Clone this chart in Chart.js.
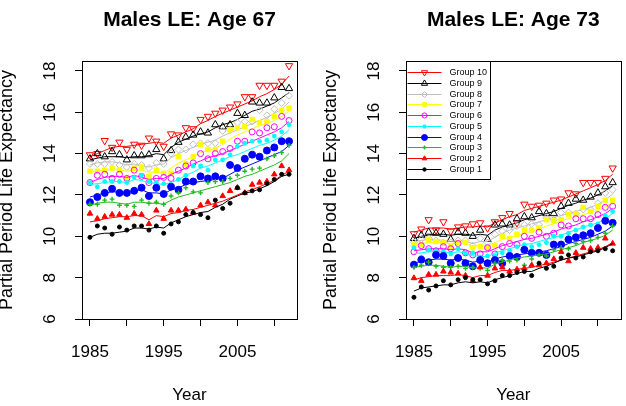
<!DOCTYPE html>
<html>
<head>
<meta charset="utf-8">
<script src="https://cdn.jsdelivr.net/npm/chart.js@4.4.1/dist/chart.umd.min.js"></script>
<style>
  body { margin: 0; background: #fff; }
  #wrap { position: relative; width: 626px; height: 406px; }
  canvas { position: absolute; top: 0; }
</style>
</head>
<body>
<div id="wrap">
  <canvas id="c67" width="313" height="406" style="left:0"></canvas>
  <canvas id="c73" width="313" height="406" style="left:313px"></canvas>
</div>
<script>
// ---- data ----
const years = [1985, 1986, 1987, 1988, 1989, 1990, 1991, 1992, 1993, 1994, 1995, 1996, 1997, 1998,
               1999, 2000, 2001, 2002, 2003, 2004, 2005, 2006, 2007, 2008, 2009, 2010, 2011, 2012];
const xTickValues = [1985, 1990, 1995, 2000, 2005, 2010];
const xTickLabels = ['1985', '', '1995', '', '2005', ''];
const yTickValues = [6, 8, 10, 12, 14, 16, 18];
const groupNames = ['Group 1', 'Group 2', 'Group 3', 'Group 4', 'Group 5',
                    'Group 6', 'Group 7', 'Group 8', 'Group 9', 'Group 10'];

// Age 67: observed points
const obs67G1 = [9.95, 10.5, 10.4, 10.1, 10.45, 10.3, 10.5, 10.5, 10.3, 10.5, 10.15, 10.6, 10.7, 11.05, 11.15, 11.05, 10.9, 11.75, 11.35, 11.6, 12.35, 12.1, 12.2, 12.25, 12.55, 12.75, 13.0, 13.0];
const obs67G2 = [11.1, 10.85, 10.95, 11.05, 11.05, 10.9, 11.1, 11.05, 10.6, 11.25, 10.85, 11.25, 11.25, 11.3, 11.15, 11.5, 11.65, 11.5, 11.95, 12.2, 12.35, 12.1, 12.5, 12.6, 12.65, 13.0, 13.4, 13.2];
const obs67G3 = [11.55, 11.55, 11.75, 11.8, 11.5, 11.5, 11.45, 11.75, 11.6, 11.65, 11.55, 11.95, 12.1, 12.35, 12.15, 12.1, 12.6, 12.65, 12.65, 12.8, 12.95, 13.15, 13.25, 13.3, 13.75, 13.9, 14.05, 14.4];
const obs67G4 = [11.65, 11.9, 12.1, 12.3, 12.1, 12.1, 12.2, 12.35, 11.95, 12.35, 12.05, 12.4, 12.25, 12.65, 12.65, 12.9, 12.8, 12.9, 12.8, 13.45, 13.3, 13.75, 13.95, 13.85, 14.15, 14.3, 14.6, 14.6];
const obs67G5 = [12.6, 12.4, 12.65, 12.65, 12.65, 12.6, 12.85, 12.95, 12.65, 12.6, 12.55, 12.4, 12.75, 12.95, 13.4, 13.4, 13.2, 13.7, 13.7, 13.95, 14.35, 14.5, 14.6, 14.6, 14.65, 14.85, 15.05, 15.4];
const obs67G6 = [12.6, 12.95, 13.0, 12.8, 13.0, 12.8, 13.2, 12.9, 12.6, 12.8, 12.85, 12.8, 13.2, 13.4, 13.55, 14.0, 13.75, 14.0, 14.1, 14.25, 14.6, 14.6, 15.05, 15.0, 15.25, 15.3, 15.8, 15.6];
const obs67G7 = [13.15, 13.15, 13.2, 13.3, 13.2, 12.8, 13.3, 13.35, 12.9, 13.2, 13.05, 13.05, 13.85, 13.5, 13.85, 14.45, 14.2, 14.2, 14.6, 15.15, 15.25, 15.3, 15.65, 15.5, 15.55, 15.8, 16.1, 16.2];
const obs67G8 = [13.5, 13.5, 13.5, 13.6, 13.45, 13.35, 13.5, 13.45, 13.3, 13.55, 13.5, 14.0, 14.2, 14.2, 14.45, 14.5, 14.5, 14.5, 15.1, 15.15, 15.5, 15.55, 15.55, 16.1, 15.85, 16.15, 16.45, 16.8];
const obs67G9 = [13.75, 14.0, 13.85, 14.1, 13.95, 13.7, 13.9, 13.9, 13.95, 14.2, 13.75, 14.15, 14.55, 14.8, 14.9, 15.05, 15.0, 15.4, 15.3, 15.4, 15.95, 15.85, 16.5, 16.45, 16.45, 16.7, 17.2, 17.15];
const obs67G10 = [13.94, 14.0, 14.63, 14.3, 14.55, 14.2, 14.45, 14.4, 14.75, 14.6, 14.35, 14.95, 14.9, 15.25, 15.2, 15.65, 15.8, 15.95, 16.1, 16.25, 16.4, 16.75, 16.75, 17.3, 17.3, 17.3, 17.5, 18.25];

// Age 67: fitted lines
const fit67G1 = [9.95, 10.1, 10.15, 10.15, 10.2, 10.25, 10.4, 10.4, 10.35, 10.45, 10.4, 10.65, 10.8, 10.95, 11.05, 11.15, 11.2, 11.4, 11.55, 11.8, 11.95, 12.1, 12.15, 12.3, 12.45, 12.65, 12.9, 13.0];
const fit67G2 = [10.7, 10.75, 10.85, 10.9, 10.95, 10.95, 11.0, 11.0, 10.8, 11.0, 10.95, 11.1, 11.15, 11.25, 11.3, 11.4, 11.5, 11.6, 11.7, 11.85, 12.0, 12.15, 12.25, 12.4, 12.55, 12.7, 12.95, 13.15];
const fit67G3 = [11.5, 11.6, 11.65, 11.65, 11.6, 11.55, 11.65, 11.65, 11.6, 11.6, 11.55, 11.75, 11.9, 12.0, 12.1, 12.2, 12.3, 12.4, 12.5, 12.6, 12.75, 12.9, 13.0, 13.15, 13.3, 13.45, 13.65, 14.0];
const fit67G4 = [11.9, 12.0, 12.1, 12.15, 12.15, 12.1, 12.2, 12.25, 12.1, 12.1, 12.05, 12.25, 12.35, 12.5, 12.6, 12.65, 12.7, 12.75, 12.8, 13.0, 13.2, 13.35, 13.5, 13.65, 13.8, 13.95, 14.1, 14.4];
const fit67G5 = [12.5, 12.55, 12.6, 12.65, 12.65, 12.6, 12.75, 12.7, 12.6, 12.55, 12.5, 12.6, 12.75, 12.95, 13.1, 13.3, 13.4, 13.55, 13.7, 13.85, 13.95, 14.1, 14.25, 14.4, 14.5, 14.65, 14.85, 15.15];
const fit67G6 = [12.6, 12.75, 12.85, 12.9, 12.9, 12.85, 12.95, 12.85, 12.75, 12.8, 12.8, 13.0, 13.15, 13.3, 13.5, 13.65, 13.8, 13.9, 14.0, 14.15, 14.3, 14.45, 14.6, 14.75, 14.9, 15.05, 15.25, 15.55];
const fit67G7 = [13.1, 13.15, 13.2, 13.25, 13.2, 13.15, 13.2, 13.2, 13.1, 13.1, 13.05, 13.3, 13.55, 13.7, 13.85, 14.05, 14.15, 14.25, 14.45, 14.7, 14.9, 15.05, 15.2, 15.35, 15.45, 15.6, 15.8, 16.05];
const fit67G8 = [13.45, 13.55, 13.6, 13.6, 13.55, 13.45, 13.5, 13.4, 13.35, 13.45, 13.5, 13.8, 14.0, 14.15, 14.3, 14.45, 14.55, 14.65, 14.85, 15.0, 15.15, 15.3, 15.45, 15.6, 15.75, 15.95, 16.15, 16.5];
const fit67G9 = [13.7, 13.78, 13.85, 13.85, 13.85, 13.8, 13.85, 13.85, 13.9, 14.0, 13.95, 14.3, 14.55, 14.7, 14.85, 14.95, 15.05, 15.25, 15.4, 15.5, 15.65, 15.85, 16.05, 16.15, 16.3, 16.45, 16.7, 16.95];
const fit67G10 = [13.85, 14.0, 14.15, 14.3, 14.35, 14.35, 14.4, 14.45, 14.5, 14.55, 14.5, 14.75, 14.9, 15.05, 15.2, 15.45, 15.6, 15.8, 15.95, 16.1, 16.25, 16.4, 16.55, 16.75, 16.9, 17.1, 17.35, 17.75];

// Age 73: observed points
const obs73G1 = [7.05, 7.55, 7.4, 7.6, 7.85, 7.65, 7.9, 8.0, 7.9, 7.9, 7.7, 7.85, 8.1, 8.1, 8.25, 8.3, 8.1, 8.7, 8.45, 8.55, 8.95, 9.1, 8.95, 9.0, 9.25, 9.3, 9.4, 9.3];
const obs73G2 = [7.98, 7.85, 8.15, 8.15, 8.3, 8.25, 8.2, 8.1, 7.85, 8.5, 8.1, 8.45, 8.5, 8.3, 8.4, 8.45, 8.6, 8.6, 8.7, 8.9, 9.25, 8.8, 9.2, 9.45, 9.4, 9.45, 9.9, 9.65];
const obs73G3 = [8.5, 8.6, 8.75, 8.55, 8.5, 8.5, 8.55, 8.45, 8.5, 8.45, 8.35, 8.7, 8.85, 8.8, 8.85, 8.6, 8.9, 9.1, 9.05, 9.35, 9.45, 9.4, 9.65, 9.75, 9.8, 9.95, 10.15, 10.5];
const obs73G4 = [8.63, 8.87, 8.75, 9.1, 9.05, 8.7, 8.95, 8.7, 8.55, 8.85, 8.7, 8.85, 8.7, 9.05, 9.0, 9.35, 9.2, 9.2, 9.1, 9.6, 9.6, 9.85, 9.95, 10.05, 10.15, 10.4, 10.75, 10.65];
const obs73G5 = [9.45, 9.0, 9.35, 9.3, 9.25, 9.15, 9.4, 9.2, 9.2, 9.0, 9.05, 9.05, 9.2, 9.3, 9.5, 9.6, 9.5, 9.6, 9.7, 10.0, 10.0, 10.15, 10.3, 10.45, 10.55, 10.6, 11.0, 11.2];
const obs73G6 = [9.25, 9.55, 9.4, 9.3, 9.5, 9.4, 9.65, 9.2, 9.1, 9.15, 9.45, 9.15, 9.5, 9.65, 9.6, 10.0, 9.9, 10.2, 10.0, 10.15, 10.55, 10.5, 10.85, 10.85, 10.85, 11.05, 11.4, 11.45];
const obs73G7 = [9.6, 9.6, 9.85, 9.75, 9.7, 9.5, 9.7, 9.7, 9.45, 9.5, 9.45, 9.55, 10.0, 9.9, 10.1, 10.3, 10.3, 10.4, 10.8, 10.75, 10.8, 11.05, 11.1, 11.4, 11.2, 11.45, 11.75, 11.75];
const obs73G8 = [9.7, 9.85, 9.9, 9.8, 9.7, 9.7, 9.8, 9.8, 9.55, 9.9, 9.7, 10.1, 10.25, 10.3, 10.5, 10.55, 10.6, 10.55, 10.9, 10.8, 11.15, 11.15, 11.1, 11.3, 11.3, 11.6, 12.1, 12.25];
const obs73G9 = [9.9, 10.05, 10.2, 10.15, 10.1, 9.85, 10.2, 10.15, 10.0, 10.3, 9.85, 10.55, 10.6, 10.55, 10.85, 10.95, 10.9, 11.2, 11.1, 11.1, 11.45, 11.6, 11.8, 11.75, 11.9, 12.1, 12.4, 12.6];
const obs73G10 = [10.12, 10.35, 10.8, 10.3, 10.7, 10.25, 10.45, 10.5, 10.6, 10.65, 10.4, 10.7, 10.9, 11.1, 10.65, 11.55, 11.45, 11.5, 11.6, 11.75, 11.8, 12.1, 12.05, 12.6, 12.6, 12.6, 12.8, 13.3];

// Age 73: fitted lines
const fit73G1 = [7.35, 7.5, 7.55, 7.6, 7.65, 7.65, 7.75, 7.8, 7.75, 7.8, 7.75, 7.9, 8.0, 8.1, 8.2, 8.3, 8.3, 8.45, 8.55, 8.7, 8.85, 8.95, 9.0, 9.1, 9.2, 9.3, 9.45, 9.65];
const fit73G2 = [7.9, 8.0, 8.05, 8.1, 8.1, 8.1, 8.15, 8.1, 8.0, 8.1, 8.1, 8.25, 8.35, 8.35, 8.4, 8.45, 8.5, 8.6, 8.65, 8.75, 8.85, 8.95, 9.05, 9.15, 9.25, 9.35, 9.5, 9.7];
const fit73G3 = [8.5, 8.55, 8.6, 8.6, 8.55, 8.5, 8.55, 8.55, 8.45, 8.5, 8.45, 8.65, 8.75, 8.85, 8.95, 9.0, 9.05, 9.1, 9.15, 9.25, 9.35, 9.45, 9.55, 9.7, 9.8, 9.9, 10.05, 10.3];
const fit73G4 = [8.7, 8.8, 8.85, 8.9, 8.9, 8.85, 8.9, 8.85, 8.75, 8.8, 8.75, 8.9, 9.0, 9.05, 9.1, 9.15, 9.2, 9.25, 9.3, 9.4, 9.5, 9.65, 9.75, 9.85, 9.95, 10.1, 10.25, 10.5];
const fit73G5 = [9.15, 9.2, 9.25, 9.25, 9.25, 9.2, 9.25, 9.2, 9.05, 9.05, 9.0, 9.2, 9.3, 9.4, 9.5, 9.6, 9.65, 9.75, 9.85, 9.95, 10.05, 10.2, 10.3, 10.45, 10.55, 10.65, 10.85, 11.1];
const fit73G6 = [9.3, 9.35, 9.4, 9.4, 9.4, 9.35, 9.4, 9.35, 9.2, 9.25, 9.25, 9.4, 9.55, 9.65, 9.75, 9.85, 9.9, 10.0, 10.1, 10.2, 10.35, 10.45, 10.55, 10.7, 10.8, 10.95, 11.1, 11.35];
const fit73G7 = [9.6, 9.65, 9.7, 9.7, 9.7, 9.65, 9.7, 9.65, 9.5, 9.55, 9.5, 9.7, 9.85, 9.95, 10.05, 10.15, 10.25, 10.35, 10.5, 10.6, 10.75, 10.85, 10.95, 11.05, 11.15, 11.25, 11.4, 11.65];
const fit73G8 = [9.75, 9.8, 9.85, 9.85, 9.8, 9.75, 9.8, 9.75, 9.65, 9.75, 9.75, 9.95, 10.15, 10.3, 10.4, 10.5, 10.6, 10.7, 10.8, 10.9, 11.0, 11.1, 11.2, 11.3, 11.4, 11.55, 11.75, 12.05];
const fit73G9 = [9.9, 10.0, 10.05, 10.1, 10.1, 10.05, 10.1, 10.1, 10.05, 10.1, 10.05, 10.3, 10.45, 10.55, 10.65, 10.8, 10.9, 11.0, 11.1, 11.2, 11.35, 11.5, 11.6, 11.75, 11.85, 12.0, 12.2, 12.45];
const fit73G10 = [10.2, 10.3, 10.4, 10.4, 10.4, 10.35, 10.4, 10.45, 10.45, 10.5, 10.45, 10.65, 10.8, 10.95, 11.05, 11.25, 11.35, 11.45, 11.55, 11.65, 11.75, 11.9, 12.05, 12.2, 12.35, 12.5, 12.7, 13.0];

// ---- styles ----
const groupColors = ['#000000', '#FF0000', '#22B922', '#0000FF', '#00FFFF',
                     '#FF00FF', '#FFFF00', '#BEBEBE', '#000000', '#FF0000'];
const markers = [
  { style: 'circle', r: 2.0, fill: true, bw: 1, rot: 0 },
  { style: 'triangle', r: 3.2, fill: true, bw: 1, rot: 0 },
  { style: 'cross', r: 2.4, fill: false, bw: 1.4, rot: 0 },
  { style: 'circle', r: 3.5, fill: true, bw: 1, rot: 0 },
  { style: 'star', r: 2.4, fill: false, bw: 1.4, rot: 0 },
  { style: 'circle', r: 3.0, fill: false, bw: 1, rot: 0 },
  { style: 'rect', r: 3.1, fill: true, bw: 1, rot: 0 },
  { style: 'rectRot', r: 3.5, fill: false, bw: 1, rot: 0 },
  { style: 'triangle', r: 4.2, fill: false, bw: 1, rot: 0 },
  { style: 'triangle', r: 4.2, fill: false, bw: 1, rot: 180 }
];
const FONT = '"Liberation Sans", Arial, Helvetica, sans-serif';

function makeDatasets(obs, fit) {
  const ds = [];
  for (let g = 0; g < 10; g++) {
    const m = markers[g];
    ds.push({
      label: groupNames[g] + ' fit',
      data: years.map((x, i) => ({ x: x, y: fit[g][i] })),
      showLine: true,
      borderColor: groupColors[g],
      borderWidth: 1,
      pointRadius: 0,
      fill: false
    });
    ds.push({
      label: groupNames[g],
      data: years.map((x, i) => ({ x: x, y: obs[g][i] })),
      showLine: false,
      pointStyle: m.style,
      pointRotation: m.rot,
      pointRadius: m.r,
      pointBorderWidth: m.bw,
      pointBorderColor: groupColors[g],
      pointBackgroundColor: m.fill ? groupColors[g] : 'rgba(0,0,0,0)'
    });
  }
  return ds;
}

function makeScales(yWidth) {
  const grid = { drawOnChartArea: false, drawTicks: true, tickLength: 7, color: '#000', lineWidth: 1 };
  return {
    x: {
      type: 'linear', min: 1983.92, max: 2013.08,
      afterBuildTicks: s => { s.ticks = xTickValues.map(v => ({ value: v })); },
      afterFit: s => { s.height = 87; },
      ticks: { display: false },
      grid: grid,
      border: { display: false }
    },
    y: {
      type: 'linear', min: 6, max: 18.48,
      afterBuildTicks: s => { s.ticks = yTickValues.map(v => ({ value: v })); },
      afterFit: s => { s.width = yWidth; },
      ticks: { display: false },
      grid: grid,
      border: { display: false }
    }
  };
}

// box, titles, axis text and (optionally) the legend
function decorations(title, withLegend) {
  return {
    id: 'decor',
    afterDraw(chart) {
      const ctx = chart.ctx;
      const a = chart.chartArea;
      const xs = chart.scales.x, ys = chart.scales.y;
      ctx.save();
      ctx.strokeStyle = '#000';
      ctx.lineWidth = 1;
      ctx.strokeRect(Math.round(a.left) + 0.5, Math.round(a.top) + 0.5,
                     Math.round(a.right - a.left), Math.round(a.bottom - a.top));

      ctx.fillStyle = '#000';
      ctx.font = 'bold 21px ' + FONT;
      ctx.textAlign = 'center';
      ctx.textBaseline = 'alphabetic';
      ctx.fillText(title, (a.left + a.right) / 2, 26);

      ctx.font = '17px ' + FONT;
      ctx.textBaseline = 'middle';
      xTickValues.forEach((v, i) => {
        if (xTickLabels[i]) ctx.fillText(xTickLabels[i], xs.getPixelForValue(v), a.bottom + 33);
      });
      ctx.fillText('Year', (a.left + a.right) / 2, a.bottom + 76);

      yTickValues.forEach(v => {
        ctx.save();
        ctx.translate(a.left - 32, ys.getPixelForValue(v));
        ctx.rotate(-Math.PI / 2);
        ctx.fillText(String(v), 0, 0);
        ctx.restore();
      });

      ctx.save();
      ctx.font = '18px ' + FONT;
      ctx.translate(a.left - 74.5, (a.top + a.bottom) / 2);
      ctx.rotate(-Math.PI / 2);
      ctx.fillText('Partial Period Life Expectancy', 0, 0);
      ctx.restore();

      if (withLegend) {
        const lx = Math.round(a.left) + 0.5, ly = Math.round(a.top) + 0.5;
        ctx.fillStyle = '#fff';
        ctx.fillRect(lx, ly, 84, 118);
        ctx.strokeStyle = '#000';
        ctx.strokeRect(lx, ly, 84, 118);
        ctx.font = '9px ' + FONT;
        ctx.textAlign = 'left';
        for (let k = 0; k < 10; k++) {
          const g = 9 - k;
          const yy = ly + 10.7 + k * 10.73;
          ctx.strokeStyle = groupColors[g];
          ctx.lineWidth = 1;
          ctx.beginPath();
          ctx.moveTo(lx + 1, Math.round(yy) + 0.5);
          ctx.lineTo(lx + 35, Math.round(yy) + 0.5);
          ctx.stroke();
          const m = markers[g];
          ctx.fillStyle = m.fill ? groupColors[g] : 'rgba(0,0,0,0)';
          ctx.strokeStyle = groupColors[g];
          ctx.lineWidth = m.bw;
          Chart.helpers.drawPoint(ctx, { pointStyle: m.style, rotation: m.rot, radius: m.r * 0.85, borderWidth: m.bw },
                                  lx + 18, Math.round(yy) + 0.5);
          ctx.fillStyle = '#000';
          ctx.fillText(groupNames[g], lx + 43, yy + 0.5);
        }
      }
      ctx.restore();
    }
  };
}

function makeChart(id, title, obs, fit, yWidth, padRight, withLegend) {
  return new Chart(document.getElementById(id).getContext('2d'), {
    type: 'scatter',
    data: { datasets: makeDatasets(obs, fit) },
    options: {
      responsive: false,
      animation: false,
      devicePixelRatio: 1,
      layout: { padding: { top: 61, right: padRight, bottom: 0, left: 0 } },
      scales: makeScales(yWidth),
      plugins: { legend: { display: false }, tooltip: { enabled: false }, title: { display: false } }
    },
    plugins: [decorations(title, withLegend)]
  });
}

makeChart('c67', 'Males LE: Age 67',
  [obs67G1, obs67G2, obs67G3, obs67G4, obs67G5, obs67G6, obs67G7, obs67G8, obs67G9, obs67G10],
  [fit67G1, fit67G2, fit67G3, fit67G4, fit67G5, fit67G6, fit67G7, fit67G8, fit67G9, fit67G10],
  82, 16, false);

makeChart('c73', 'Males LE: Age 73',
  [obs73G1, obs73G2, obs73G3, obs73G4, obs73G5, obs73G6, obs73G7, obs73G8, obs73G9, obs73G10],
  [fit73G1, fit73G2, fit73G3, fit73G4, fit73G5, fit73G6, fit73G7, fit73G8, fit73G9, fit73G10],
  93, 4, true);
</script>
</body>
</html>
